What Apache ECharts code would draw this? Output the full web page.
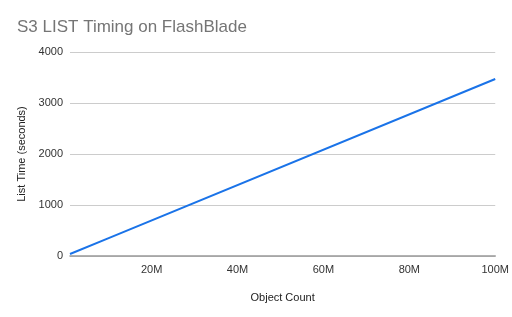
<!DOCTYPE html>
<html><head><meta charset="utf-8">
<script src="https://cdn.jsdelivr.net/npm/echarts@6/dist/echarts.min.js"></script>
<style>html,body{margin:0;padding:0;background:#fff}#c{width:512px;height:317px}</style>
</head><body><div id="c"></div>
<script>
var objectCounts = [1000000, 10000000, 100000000];
var listTimes = [40, 350, 3470];
var xTicks = [20000000, 40000000, 60000000, 80000000, 100000000];
var yTicks = [0, 1000, 2000, 3000, 4000];

var font = 'Arial, "Liberation Sans", sans-serif';
var chart = echarts.init(document.getElementById('c'), null, {renderer: 'canvas'});
chart.setOption({
  animation: false,
  backgroundColor: '#fff',
  title: {
    text: 'S3 LIST Timing on FlashBlade',
    left: 17, top: 19, padding: 0,
    textStyle: {fontFamily: font, fontSize: 17, fontWeight: 'normal', color: '#757575'}
  },
  grid: {left: 70, right: 16, top: 52, bottom: 61},
  xAxis: {
    type: 'value', min: 1000000, max: 100000000,
    name: 'Object Count', nameLocation: 'middle', nameGap: 36,
    nameTextStyle: {fontFamily: font, fontSize: 11, color: '#222'},
    axisLine: {show: true, lineStyle: {color: '#999', width: 1.5}},
    axisTick: {show: false},
    splitLine: {show: false},
    axisLabel: {
      customValues: xTicks, margin: 8,
      fontFamily: font, fontSize: 11, color: '#333',
      formatter: function (v) { return (v / 1000000) + 'M'; }
    }
  },
  yAxis: {
    type: 'value', min: 0, max: 4000, interval: 1000,
    name: 'List Time (seconds)', nameLocation: 'middle', nameGap: 43,
    nameTextStyle: {fontFamily: font, fontSize: 11, color: '#222'},
    axisLine: {show: false},
    axisTick: {show: false},
    splitLine: {lineStyle: {color: '#ccc', width: 1}},
    axisLabel: {margin: 7, fontFamily: font, fontSize: 11, color: '#333',
      formatter: function (v) { return String(v); }}
  },
  series: [{
    type: 'line',
    data: objectCounts.map(function (x, i) { return [x, listTimes[i]]; }),
    showSymbol: false,
    lineStyle: {color: '#1a73e8', width: 2},
    itemStyle: {color: '#1a73e8'}
  }]
});
</script></body></html>
